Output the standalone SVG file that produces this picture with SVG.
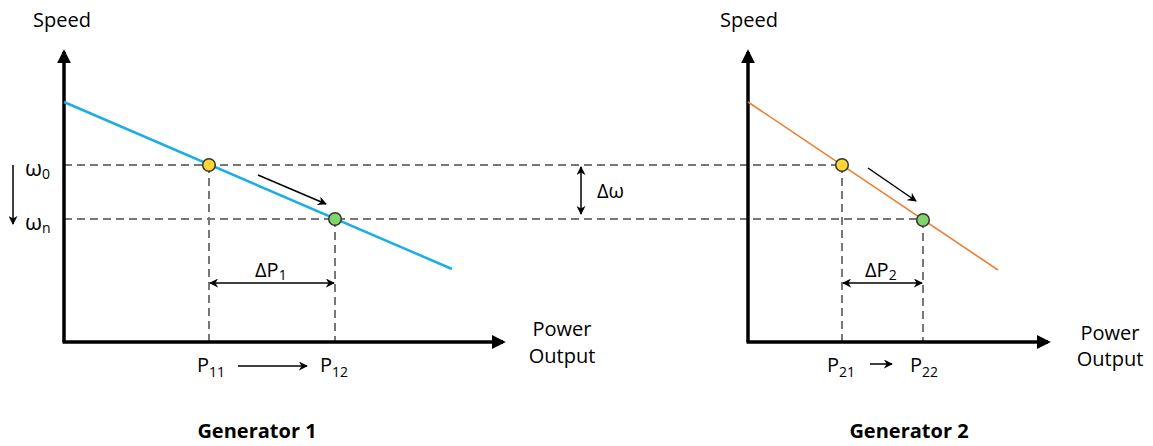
<svg xmlns="http://www.w3.org/2000/svg" width="1153" height="446" viewBox="0 0 1153 446">
<style>
text{font-family:"Open Sans","Noto Sans",sans-serif;font-size:20px;fill:#000}
.sub{font-size:14px}
.bold{font-weight:bold;font-size:20px}
.axis{stroke:#000;stroke-width:3.5;fill:none}
.dash{stroke:#777;stroke-width:2;stroke-dasharray:8 5;fill:none}
.thin{stroke:#000;stroke-width:1.5;fill:none}
.dot{stroke:#333;stroke-width:1.5}
</style>
<defs>
<marker id="ah" viewBox="0 0 10 10" refX="9" refY="5" markerWidth="6" markerHeight="6" orient="auto-start-reverse" markerUnits="strokeWidth"><path d="M0,0 L10,5 L0,10 L3,5 z" fill="#000"/></marker>
<marker id="axh" viewBox="0 0 10 10" refX="8" refY="5" markerWidth="4" markerHeight="4" orient="auto" markerUnits="strokeWidth"><path d="M0,0 L10,5 L0,10 z" fill="#000"/></marker>
</defs>
<g id="connectors">
<line class="dash" x1="64" y1="165" x2="840" y2="165"/>
<line class="dash" x1="64" y1="219" x2="922" y2="219"/>
<line class="dash" x1="209" y1="165" x2="209" y2="342"/>
<line class="dash" x1="335" y1="219" x2="335" y2="342"/>
<line class="dash" x1="842" y1="165" x2="842" y2="342"/>
<line class="dash" x1="923" y1="220" x2="923" y2="342"/>
<line class="thin" x1="210" y1="283" x2="334" y2="283" marker-start="url(#ah)" marker-end="url(#ah)"/>
<line class="thin" x1="843" y1="283" x2="922" y2="283" marker-start="url(#ah)" marker-end="url(#ah)"/>
<line class="thin" x1="581" y1="167" x2="581" y2="214" marker-start="url(#ah)" marker-end="url(#ah)"/>
<line class="thin" x1="13" y1="165" x2="13" y2="224" marker-end="url(#ah)"/>
<line class="thin" x1="258" y1="175" x2="326" y2="204" marker-end="url(#ah)"/>
<line class="thin" x1="868" y1="168" x2="916" y2="201" marker-end="url(#ah)"/>
<line class="thin" x1="238" y1="366" x2="307" y2="366" marker-end="url(#ah)"/>
<line class="thin" x1="870" y1="364" x2="892" y2="364" marker-end="url(#ah)"/>
</g>
<g id="generator1">
<line class="axis" x1="64" y1="342" x2="64" y2="52" marker-end="url(#axh)"/>
<line class="axis" x1="62.5" y1="342" x2="503" y2="342" marker-end="url(#axh)"/>
<line x1="64" y1="102" x2="452" y2="269" stroke="#1AAEE3" stroke-width="2.5"/>
<circle class="dot" cx="209" cy="165" r="6.3" fill="#FFD633"/>
<circle class="dot" cx="335" cy="219" r="6.3" fill="#7FD46A"/>
<text x="33" y="27">Speed</text>
<text x="25" y="176" style="font-size:22px">ω<tspan class="sub" dy="3">0</tspan></text>
<text x="25" y="230" style="font-size:22px">ω<tspan class="sub" dy="3">n</tspan></text>
<text x="255" y="277">ΔP<tspan class="sub" dy="3">1</tspan></text>
<text x="197" y="372">P<tspan class="sub" dy="5">11</tspan></text>
<text x="320" y="372">P<tspan class="sub" dy="5">12</tspan></text>
<text x="562" y="336" text-anchor="middle">Power</text>
<text x="562" y="363" text-anchor="middle">Output</text>
<text class="bold" x="257" y="438" text-anchor="middle">Generator 1</text>
</g>
<g id="delta-omega">
<text x="597" y="198">Δω</text>
</g>
<g id="generator2">
<line class="axis" x1="748" y1="342" x2="748" y2="52" marker-end="url(#axh)"/>
<line class="axis" x1="746.5" y1="342" x2="1048" y2="342" marker-end="url(#axh)"/>
<line x1="748" y1="102" x2="998" y2="270" stroke="#ED7D31" stroke-width="1.6"/>
<circle class="dot" cx="842" cy="165" r="6.3" fill="#FFD633"/>
<circle class="dot" cx="923" cy="220" r="6.3" fill="#7FD46A"/>
<text x="720" y="27">Speed</text>
<text x="865" y="277">ΔP<tspan class="sub" dy="3">2</tspan></text>
<text x="827" y="372">P<tspan class="sub" dy="5">21</tspan></text>
<text x="910" y="372">P<tspan class="sub" dy="5">22</tspan></text>
<text x="1110" y="340" text-anchor="middle">Power</text>
<text x="1110" y="366" text-anchor="middle">Output</text>
<text class="bold" x="909" y="438" text-anchor="middle">Generator 2</text>
</g>
</svg>
